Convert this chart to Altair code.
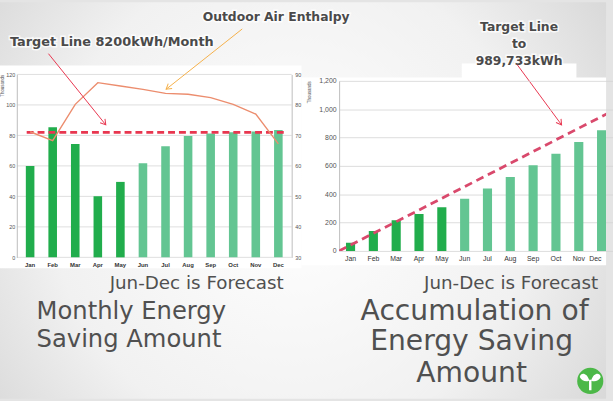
import math
import altair as alt
import pandas as pd

# ---------------- data ----------------
months = ["Jan", "Feb", "Mar", "Apr", "May", "Jun", "Jul", "Aug", "Sep", "Oct", "Nov", "Dec"]
status = ["Actual", "Actual", "Actual", "Actual", "Actual",
          "Forecast", "Forecast", "Forecast", "Forecast", "Forecast", "Forecast", "Forecast"]
monthly_saving = [60.0, 85.3, 74.4, 40.1, 49.5, 61.8, 72.9, 79.6, 81.2, 82.0, 82.5, 83.5]
enthalpy = [71.2, 68.3, 80.2, 87.3, 86.2, 85.1, 83.8, 83.5, 82.4, 80.2, 77.0, 67.2]
cumulative_saving = [58, 140, 217, 261, 308, 368, 440, 522, 604, 685, 769, 851]
monthly_target = [82]
target_month = [0, 12]
target_cumulative = [0, 989.733]
saving_ticks = [0, 20, 40, 60, 80, 100, 120]
enthalpy_ticks = [30, 40, 50, 60, 70, 80, 90]
cumulative_ticks = [0, 200, 400, 600, 800, 1000, 1200]

mdf = pd.DataFrame({"month": months, "status": status, "saving": monthly_saving,
                    "enthalpy": enthalpy, "cum": cumulative_saving})
tdf = pd.DataFrame({"m": target_month, "cum": target_cumulative})
one = pd.DataFrame({"k": [0]})

# ---------------- layout ----------------
W_PAGE, H_PAGE = 613, 401
LX, LY, LW, LH = 17, 73, 278, 185
RX, RW, RH, R_RANGE = 343, 270, 172, 277
ACT, FC = "#21ad4c", "#63c592"
TXT = "#4a4a4a"

color_enc = alt.Color("status:N", scale=alt.Scale(domain=["Actual", "Forecast"], range=[ACT, FC]), legend=None)


def rect(px1, py1, px2, py2, fill):
    return alt.Chart(one).mark_rect(fill=fill).encode(
        x=alt.value(px1 - LX), x2=alt.value(px2 - LX), y=alt.value(py1 - LY), y2=alt.value(py2 - LY))


def txt(s, px, py, size, weight="normal", align="left", baseline="alphabetic", color=TXT, halo=False):
    layers = []
    if halo:
        layers.append(alt.Chart(one).mark_text(text=s, fontSize=size, fontWeight=weight, align=align,
                                               baseline=baseline, font="DejaVu Sans", stroke="white",
                                               strokeWidth=3, strokeOpacity=0.8, fill="white").encode(
            x=alt.value(px - LX), y=alt.value(py - LY)))
    layers.append(alt.Chart(one).mark_text(text=s, fontSize=size, fontWeight=weight, align=align,
                                           baseline=baseline, font="DejaVu Sans", color=color).encode(
        x=alt.value(px - LX), y=alt.value(py - LY)))
    return layers


def arrow(px1, py1, px2, py2, color):
    ang = math.degrees(math.atan2(px2 - px1, -(py2 - py1))) % 360
    line = alt.Chart(one).mark_rule(color=color, strokeWidth=1).encode(
        x=alt.value(px1 - LX), y=alt.value(py1 - LY), x2=alt.value(px2 - LX), y2=alt.value(py2 - LY))
    head = alt.Chart(one).mark_point(shape="M -0.6 1 L 0 0 L 0.6 1", filled=False, stroke=color,
                                     strokeWidth=1, size=110, angle=ang, opacity=1).encode(
        x=alt.value(px2 - LX), y=alt.value(py2 - LY))
    return [line, head]


bg_grad = {"gradient": "radial", "x1": 0.48, "y1": 0.5, "r1": 0.0, "x2": 0.48, "y2": 0.5, "r2": 0.72,
           "stops": [{"offset": 0, "color": "#ffffff"}, {"offset": 0.55, "color": "#f1f1f1"},
                     {"offset": 1, "color": "#cdcdcd"}]}

background = [
    rect(0, 0, W_PAGE, H_PAGE, bg_grad),
    rect(0, 64, 305, 269, "#ffffff"),
    rect(305, 76, W_PAGE, 266, "#ffffff"),
    rect(467, 62, 583, 77, "#ffffff"),
]

# ---------------- left chart ----------------
x_left = alt.X("month:N", sort=months,
               scale=alt.Scale(paddingInner=0.62, paddingOuter=0.4),
               axis=alt.Axis(title=None, labelAngle=0, labelFontSize=6, labelColor="#333",
                             labelFontWeight="bold", ticks=False, domain=False, labelPadding=4, zindex=1))
y_left_scale = alt.Scale(domain=[0, 120])
y_left_axis = alt.Axis(values=saving_ticks, grid=False, domainColor="#bdbdbd", ticks=False,
                       labelFontSize=5.5, labelColor="#555", labelPadding=2, title="Thousands",
                       titleFontSize=4.5, titleFontWeight="normal", titleColor="#555",
                       titleX=-12, titleY=11, zindex=1)

grid_left = alt.Chart(pd.DataFrame({"saving": saving_ticks})).mark_rule(color="#d6d6d6", strokeWidth=0.8).encode(
    y=alt.Y("saving:Q", scale=y_left_scale, axis=y_left_axis))
bars_left = alt.Chart(mdf).mark_bar().encode(
    x=x_left, y=alt.Y("saving:Q", scale=y_left_scale, axis=y_left_axis), color=color_enc)
target_left = alt.Chart(pd.DataFrame({"saving": monthly_target})).mark_rule(
    color="#e8364f", strokeWidth=2.6, strokeDash=[7, 4]).encode(
    y=alt.Y("saving:Q", scale=y_left_scale, axis=y_left_axis), x=alt.value(10), x2=alt.value(273))
inner_left = alt.layer(grid_left, bars_left, target_left)

line_left = alt.Chart(mdf).mark_line(color="#ec8d6e", strokeWidth=1.4).encode(
    x=x_left,
    y=alt.Y("enthalpy:Q", scale=alt.Scale(domain=[30, 90]),
            axis=alt.Axis(orient="right", values=enthalpy_ticks, grid=False, domainColor="#bdbdbd",
                          ticks=False, labelFontSize=5.5, labelColor="#555", labelPadding=3,
                          title=None, zindex=1)))

annotations = []
annotations += txt("Target Line 8200kWh/Month", 10, 40, 13, weight="bold", baseline="middle", halo=True)
annotations += txt("Outdoor Air Enthalpy", 205, 15, 12.5, weight="bold", baseline="middle", halo=True)
annotations += txt("Target Line", 525, 25, 12.5, weight="bold", align="center", baseline="middle", halo=True)
annotations += txt("to", 525, 42, 12.5, weight="bold", align="center", baseline="middle", halo=True)
annotations += txt("989,733kWh", 525, 59, 12.5, weight="bold", align="center", baseline="middle", halo=True)
annotations += txt("Jun-Dec is Forecast", 287, 290, 18.5, align="right", color="#505050")
annotations += txt("Jun-Dec is Forecast", 605, 290, 18.5, align="right", color="#505050")
annotations += txt("Monthly Energy", 37, 320, 24.5, color="#505050")
annotations += txt("Saving Amount", 37, 349, 24.5, color="#505050")
annotations += txt("Accumulation of", 480, 321, 28.5, align="center", color="#505050")
annotations += txt("Energy Saving", 477, 352, 28.5, align="center", color="#505050")
annotations += txt("Amount", 477, 384, 28.5, align="center", color="#505050")
annotations += arrow(49, 52, 107, 124, "#e8364f")
annotations += arrow(245, 27, 168, 88, "#f5b04a")
annotations += arrow(523, 63, 568, 124, "#e8364f")

logo = [
    alt.Chart(one).mark_point(shape="circle", filled=True, color="#4cb848", size=700, opacity=1).encode(
        x=alt.value(597 - LX), y=alt.value(383 - LY)),
    alt.Chart(one).mark_point(
        shape="M -0.09 -0.05 C -0.3 -0.75 -0.85 -0.8 -0.95 -0.35 C -0.75 0.05 -0.3 0.1 -0.09 -0.05 Z "
              "M 0.09 -0.05 C 0.3 -0.75 0.85 -0.8 0.95 -0.35 C 0.75 0.05 0.3 0.1 0.09 -0.05 Z "
              "M -0.11 -0.1 L 0.11 -0.1 L 0.11 0.85 L -0.11 0.85 Z",
        filled=True, color="white", size=500, opacity=1).encode(
        x=alt.value(597 - LX), y=alt.value(383 - LY)),
]

left = alt.layer(*background, inner_left, line_left, *annotations, *logo).resolve_scale(
    y="independent").properties(width=LW, height=LH)

# ---------------- right chart ----------------
x_right = alt.X("month:N", sort=months,
                scale=alt.Scale(range=[0, R_RANGE], paddingInner=0.6, paddingOuter=0.3),
                axis=alt.Axis(title=None, labelAngle=0, labelFontSize=7, labelColor="#333",
                              ticks=False, domain=False, labelPadding=4,
                              labelAlign={"condition": {"test": "datum.label == 'Dec'", "value": "right"},
                                          "value": "center"}))
y_right_scale = alt.Scale(domain=[0, 1200])
y_right_axis = alt.Axis(values=cumulative_ticks, format=",.0f", grid=True, gridColor="#d4d4d4", gridWidth=0.8,
                        domainColor="#bdbdbd", ticks=False, labelFontSize=7, labelColor="#555",
                        labelPadding=3, title="Thousands", titleFontSize=4.5, titleFontWeight="normal",
                        titleColor="#555", titleX=-28, titleY=11)

bars_right = alt.Chart(mdf).mark_bar(clip=True).encode(
    x=x_right, y=alt.Y("cum:Q", scale=y_right_scale, axis=y_right_axis), color=color_enc)
target_right = alt.Chart(tdf).mark_line(color="#d9496c", strokeWidth=2.8, strokeDash=[8, 5], clip=True).encode(
    x=alt.X("m:Q", scale=alt.Scale(domain=[0, 12], range=[0, R_RANGE]), axis=None),
    y=alt.Y("cum:Q", scale=y_right_scale, axis=y_right_axis))

right = alt.layer(bars_right, target_right).resolve_scale(x="independent").properties(width=RW, height=RH)

chart = alt.hconcat(left, right, spacing=RX - (LX + LW), bounds="flush", center=True, padding=0).configure(
    background="#e4e4e4", font="Liberation Sans"
).configure_view(stroke=None).configure_axis(labelFont="Liberation Sans", titleFont="Liberation Sans")

chart.save("out.html", embed_options={"renderer": "svg", "actions": False})
